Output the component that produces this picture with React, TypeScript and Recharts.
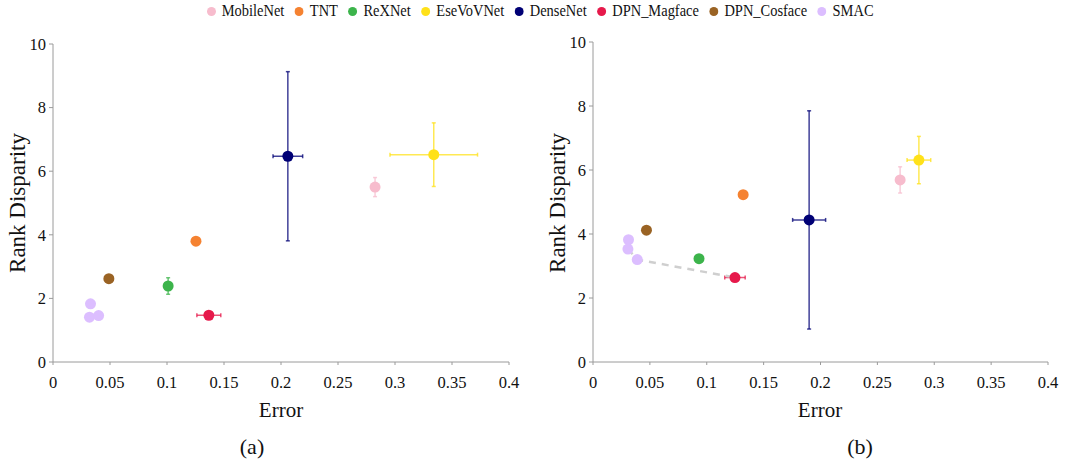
import { ScatterChart, Scatter, XAxis, YAxis, ErrorBar } from "recharts";

const models = ["MobileNet", "TNT", "ReXNet", "EseVoVNet", "DenseNet", "DPN_Magface", "DPN_Cosface", "SMAC"];
const colors = ["#f7bccd", "#f58231", "#3cb44b", "#ffe119", "#000075", "#e6194b", "#9a6324", "#dcbeff"];

const xTicks = [0, 0.05, 0.1, 0.15, 0.2, 0.25, 0.3, 0.35, 0.4];
const yTicks = [0, 2, 4, 6, 8, 10];

// (a)
const aModel = [0, 1, 2, 3, 4, 5, 6, 7, 7, 7];
const aError = [0.2825, 0.1254, 0.101, 0.334, 0.206, 0.1367, 0.049, 0.0329, 0.032, 0.04];
const aRank = [5.5, 3.8, 2.39, 6.52, 6.47, 1.47, 2.62, 1.83, 1.41, 1.46];
const aErrorSd = [0, 0, 0, 0.0384, 0.013, 0.0105, 0, 0, 0, 0];
const aRankSd = [0.3, 0.05, 0.26, 1.0, 2.66, 0, 0, 0, 0, 0];

// (b)
const bModel = [0, 1, 2, 3, 4, 5, 6, 7, 7, 7];
const bError = [0.27, 0.132, 0.0932, 0.2865, 0.19, 0.1248, 0.047, 0.0312, 0.0307, 0.0389];
const bRank = [5.69, 5.23, 3.23, 6.31, 4.44, 2.64, 4.12, 3.82, 3.53, 3.2];
const bErrorSd = [0, 0, 0, 0.0104, 0.0145, 0.009, 0, 0, 0, 0];
const bRankSd = [0.41, 0, 0, 0.74, 3.41, 0, 0, 0, 0, 0];
const bTrendError = [0.0307, 0.0389, 0.1248];
const bTrendRank = [3.53, 3.2, 2.64];

const FONT = "'Liberation Serif', 'Times New Roman', serif";

type Pt = { x: number; y: number; ex: number; ey: number };

function seriesFor(model: number[], xs: number[], ys: number[], exs: number[], eys: number[]) {
  return models.map((_, m) => {
    const pts: Pt[] = [];
    model.forEach((mi, i) => {
      if (mi === m) pts.push({ x: xs[i], y: ys[i], ex: exs[i], ey: eys[i] });
    });
    return pts;
  });
}

function Panel({
  left,
  width,
  top,
  right,
  series,
  trend,
}: {
  left: number;
  width: number;
  top: number;
  right: number;
  series: Pt[][];
  trend?: { x: number; y: number }[];
}) {
  const tick = { fill: "#111", fontSize: 16.5, fontFamily: FONT };
  return (
    <div style={{ position: "absolute", left, top: 0 }}>
      <ScatterChart width={width} height={463} margin={{ top, right, bottom: 71, left: 0 }}>
        <XAxis
          type="number"
          dataKey="x"
          domain={[0, 0.4]}
          ticks={xTicks}
          height={30}
          tick={tick}
          tickSize={3}
          tickMargin={11}
          stroke="#9a9a9a"
          allowDataOverflow
        />
        <YAxis
          type="number"
          dataKey="y"
          domain={[0, 10]}
          ticks={yTicks}
          width={53}
          tick={tick}
          tickSize={4}
          tickMargin={3}
          stroke="#9a9a9a"
          allowDataOverflow
        />
        {trend && (
          <Scatter
            data={trend}
            line={{ stroke: "#cfcfcf", strokeWidth: 2.5, strokeDasharray: "7 6" }}
            shape={() => <g />}
            legendType="none"
            isAnimationActive={false}
          />
        )}
        {series.map((pts, m) => (
          <Scatter
            key={models[m]}
            name={models[m]}
            data={pts}
            fill={colors[m]}
            isAnimationActive={false}
            shape={(p: any) => <circle cx={p.cx} cy={p.cy} r={5.5} fill={colors[m]} />}
          >
            {pts.some((p) => p.ex > 0) && (
              <ErrorBar dataKey="ex" direction="x" width={2} stroke={colors[m]} strokeWidth={1.5} strokeOpacity={0.75} />
            )}
            {pts.some((p) => p.ey > 0) && (
              <ErrorBar dataKey="ey" direction="y" width={2} stroke={colors[m]} strokeWidth={1.5} strokeOpacity={0.75} />
            )}
          </Scatter>
        ))}
      </ScatterChart>
    </div>
  );
}

const text = (x: number, y: number, s: string, size: number, rotate = false) => (
  <div
    style={{
      position: "absolute",
      left: x,
      top: y,
      transform: `translate(-50%, -50%)${rotate ? " rotate(-90deg)" : ""}`,
      fontFamily: FONT,
      fontSize: size,
      color: "#111",
      whiteSpace: "nowrap",
    }}
  >
    {s}
  </div>
);

export default function App() {
  const seriesA = seriesFor(aModel, aError, aRank, aErrorSd, aRankSd);
  const seriesB = seriesFor(bModel, bError, bRank, bErrorSd, bRankSd);
  const trend = bTrendError.map((x, i) => ({ x, y: bTrendRank[i] }));
  return (
    <div style={{ position: "absolute", left: 0, top: 0, width: 1065, height: 463, background: "#fff", overflow: "hidden" }}>
      <div
        style={{
          position: "absolute",
          left: 0,
          top: 1,
          width: 1080,
          display: "flex",
          justifyContent: "center",
          gap: 12,
          fontFamily: FONT,
          fontSize: 17,
          color: "#111",
          transform: "scaleX(0.85)",
          transformOrigin: "540px 0",
        }}
      >
        {models.map((m, i) => (
          <span key={m} style={{ display: "flex", alignItems: "center", gap: 7 }}>
            <svg width={11} height={9}>
              <ellipse cx={5.5} cy={4.5} rx={5.3} ry={4.5} fill={colors[i]} />
            </svg>
            {m}
          </span>
        ))}
      </div>
      <Panel left={0} width={530} top={44} right={21} series={seriesA} />
      <Panel left={540} width={525} top={42} right={17} series={seriesB} trend={trend} />
      {text(18, 203, "Rank Disparity", 23, true)}
      {text(558, 203, "Rank Disparity", 23, true)}
      {text(281, 410, "Error", 21)}
      {text(820, 410, "Error", 21)}
      {text(252, 447, "(a)", 22)}
      {text(860, 447, "(b)", 22)}
    </div>
  );
}
